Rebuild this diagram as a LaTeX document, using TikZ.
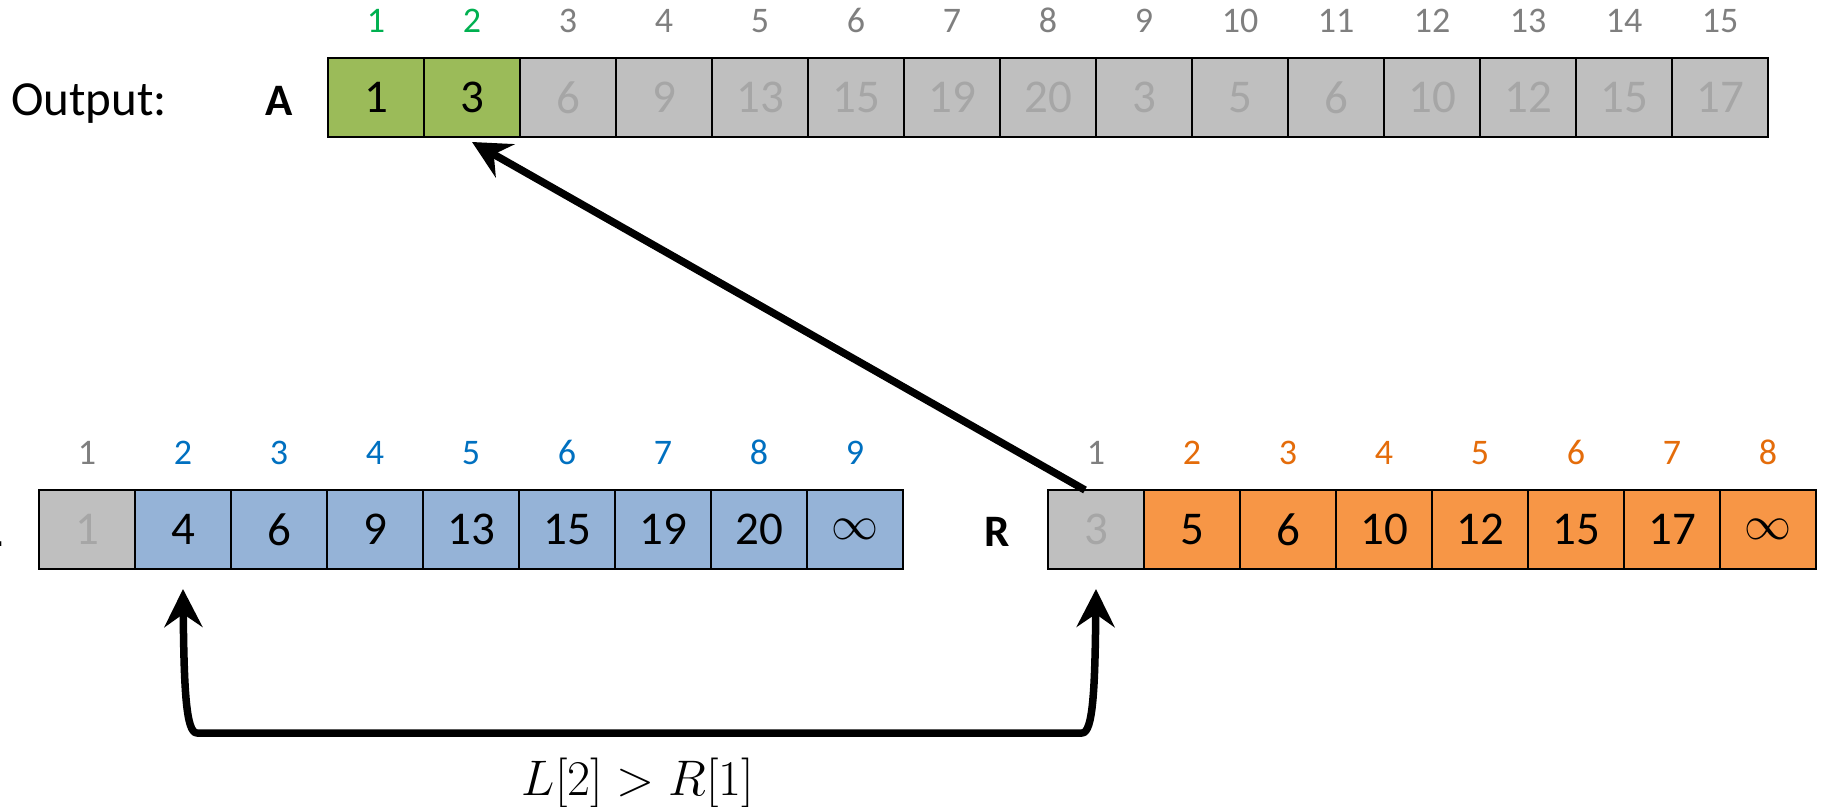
\RequirePackage{fix-cm}
\documentclass[tikz,border=0pt]{standalone}
\usepackage{fontspec}
\setmainfont{Carlito}
\usetikzlibrary{arrows.meta,calc}
\definecolor{gfill}{HTML}{9BBB59}
\definecolor{gidx}{HTML}{00B050}
\definecolor{bfill}{HTML}{95B3D7}
\definecolor{bidx}{HTML}{0070C0}
\definecolor{ofill}{HTML}{F79646}
\definecolor{oidx}{HTML}{E46C0A}
\definecolor{xfill}{HTML}{BFBFBF}
\definecolor{xtext}{HTML}{A6A6A6}
\definecolor{xidx}{HTML}{7F7F7F}
\begin{document}
\begin{tikzpicture}[x=1pt,y=-1pt,
  cell/.style={draw=black, line width=2.2pt, minimum width=96pt, minimum height=79pt,
    inner sep=0pt, outer sep=0pt, anchor=north west,
    font=\fontsize{47}{56}\selectfont},
  gc/.style={cell, fill=gfill, text=black},
  bc/.style={cell, fill=bfill, text=black},
  oc/.style={cell, fill=ofill, text=black},
  xc/.style={cell, fill=xfill, text=xtext},
  idx/.style={anchor=base, inner sep=0pt, font=\fontsize{36}{43}\selectfont},
  gi/.style={idx, text=gidx},
  bi/.style={idx, text=bidx},
  oi/.style={idx, text=oidx},
  xi/.style={idx, text=xidx},
  arrname/.style={anchor=base, inner sep=0pt, font=\fontsize{45}{54}\selectfont\bfseries},
  arr/.style={line width=7.5pt, -{Stealth[length=38pt, width=38pt, inset=13pt]}},
  arrb/.style={line width=7.5pt, {Stealth[length=38pt, width=38pt, inset=13pt]}-{Stealth[length=38pt, width=38pt, inset=13pt]}, line join=round}
]
\useasboundingbox (0,0) rectangle (1822,806);

% labels
\node[anchor=base west, inner sep=0pt, font=\fontsize{49}{59}\selectfont] (out) at (11,115) {Output:};
\node[arrname] (Aname) at (279,115) {A};
\node[arrname, anchor=base east] (Lname) at (3,546) {L};
\node[arrname] (Rname) at (997,546) {R};

% output array A
\foreach \v/\s/\t [count=\i] in {1/gc/gi,3/gc/gi,6/xc/xi,9/xc/xi,13/xc/xi,15/xc/xi,19/xc/xi,20/xc/xi,3/xc/xi,5/xc/xi,6/xc/xi,10/xc/xi,12/xc/xi,15/xc/xi,17/xc/xi}{
  \node[\s] (T\i) at ({328+96*(\i-1)},58) {\v};
  \node[\t] (Ti\i) at ({376+96*(\i-1)},32) {\i};
}

% left array L
\foreach \v/\s/\t [count=\i] in {1/xc/xi,4/bc/bi,6/bc/bi,9/bc/bi,13/bc/bi,15/bc/bi,19/bc/bi,20/bc/bi,{$\infty$}/bc/bi}{
  \node[\s] (L\i) at ({39+96*(\i-1)},490) {\v};
  \node[\t] (Li\i) at ({87+96*(\i-1)},464) {\i};
}

% right array R
\foreach \v/\s/\t [count=\i] in {3/xc/xi,5/oc/oi,6/oc/oi,10/oc/oi,12/oc/oi,15/oc/oi,17/oc/oi,{$\infty$}/oc/oi}{
  \node[\s] (R\i) at ({1048+96*(\i-1)},490) {\v};
  \node[\t] (Ri\i) at ({1096+96*(\i-1)},464) {\i};
}

% diagonal arrow R[1] -> A[2]
\coordinate (dstart) at ($(R1.north)+(-11,0)$);
\coordinate (dend) at ($(T2.south)+(0,5)$);
\draw[arr] (dstart) -- (dend);

% comparison bracket
\coordinate (bl) at ($(L2.south)+(0,20)$);
\coordinate (br) at ($(R1.south)+(0,20)$);
\draw[arrb] (bl) .. controls ($(bl)+(1,100)$) and ($(bl)+(3,144)$) .. ($(bl)+(14,144)$)
  -- ($(br)+(-14,144)$) .. controls ($(br)+(-3,144)$) and ($(br)+(-1,100)$) .. (br);

\node[anchor=base, inner sep=0pt, font=\fontsize{50}{60}\selectfont] (cond) at (638,795) {$L[2] > R[1]$};
\end{tikzpicture}
\end{document}
